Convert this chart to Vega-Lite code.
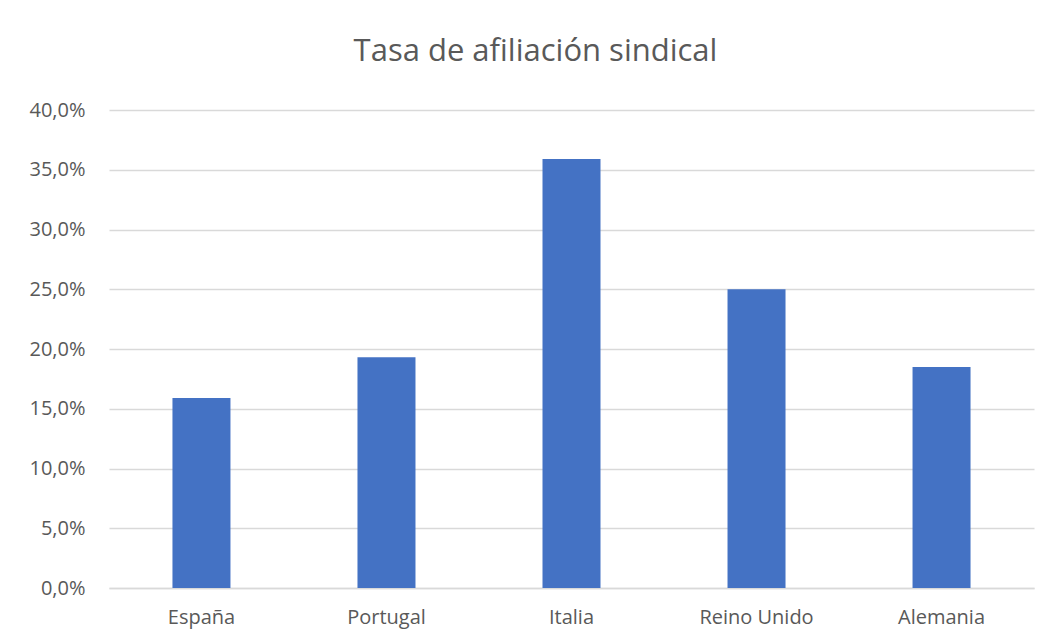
{
  "$schema": "https://vega.github.io/schema/vega-lite/v6.json",
  "width": 925,
  "height": 478,
  "autosize": {"type": "none"},
  "padding": {"left": 109, "top": 110, "right": 16, "bottom": 56},
  "background": "white",
  "title": {
    "text": "Tasa de afiliación sindical",
    "font": "Open Sans",
    "fontSize": 31,
    "fontWeight": "normal",
    "color": "#595959",
    "anchor": "middle",
    "baseline": "alphabetic",
    "offset": 8,
    "dx": -36
  },
  "data": {
    "values": [
      {"pais": "España", "tasa": 0.159},
      {"pais": "Portugal", "tasa": 0.193},
      {"pais": "Italia", "tasa": 0.359},
      {"pais": "Reino Unido", "tasa": 0.250},
      {"pais": "Alemania", "tasa": 0.185}
    ]
  },
  "mark": {"type": "bar", "color": "#4472C4"},
  "encoding": {
    "x": {
      "field": "pais",
      "type": "nominal",
      "sort": null,
      "scale": {"paddingInner": 0.6865, "paddingOuter": 0.343},
      "axis": {
        "title": null,
        "labelAngle": 0,
        "labelFont": "Open Sans",
        "labelFontSize": 20,
        "labelColor": "#595959",
        "labelPadding": 19,
        "ticks": false,
        "domainColor": "#D9D9D9",
        "domainWidth": 1.3
      }
    },
    "y": {
      "field": "tasa",
      "type": "quantitative",
      "scale": {"domain": [0, 0.4], "nice": false},
      "axis": {
        "title": null,
        "values": [0, 0.05, 0.1, 0.15, 0.2, 0.25, 0.3, 0.35, 0.4],
        "labelExpr": "replace(format(datum.value, '.1%'), '.', ',')",
        "labelFont": "Open Sans",
        "labelFontSize": 20,
        "labelColor": "#595959",
        "labelPadding": 24,
        "ticks": false,
        "domain": false,
        "gridColor": "#D9D9D9",
        "gridWidth": 1.3
      }
    }
  },
  "config": {"view": {"stroke": null}}
}
